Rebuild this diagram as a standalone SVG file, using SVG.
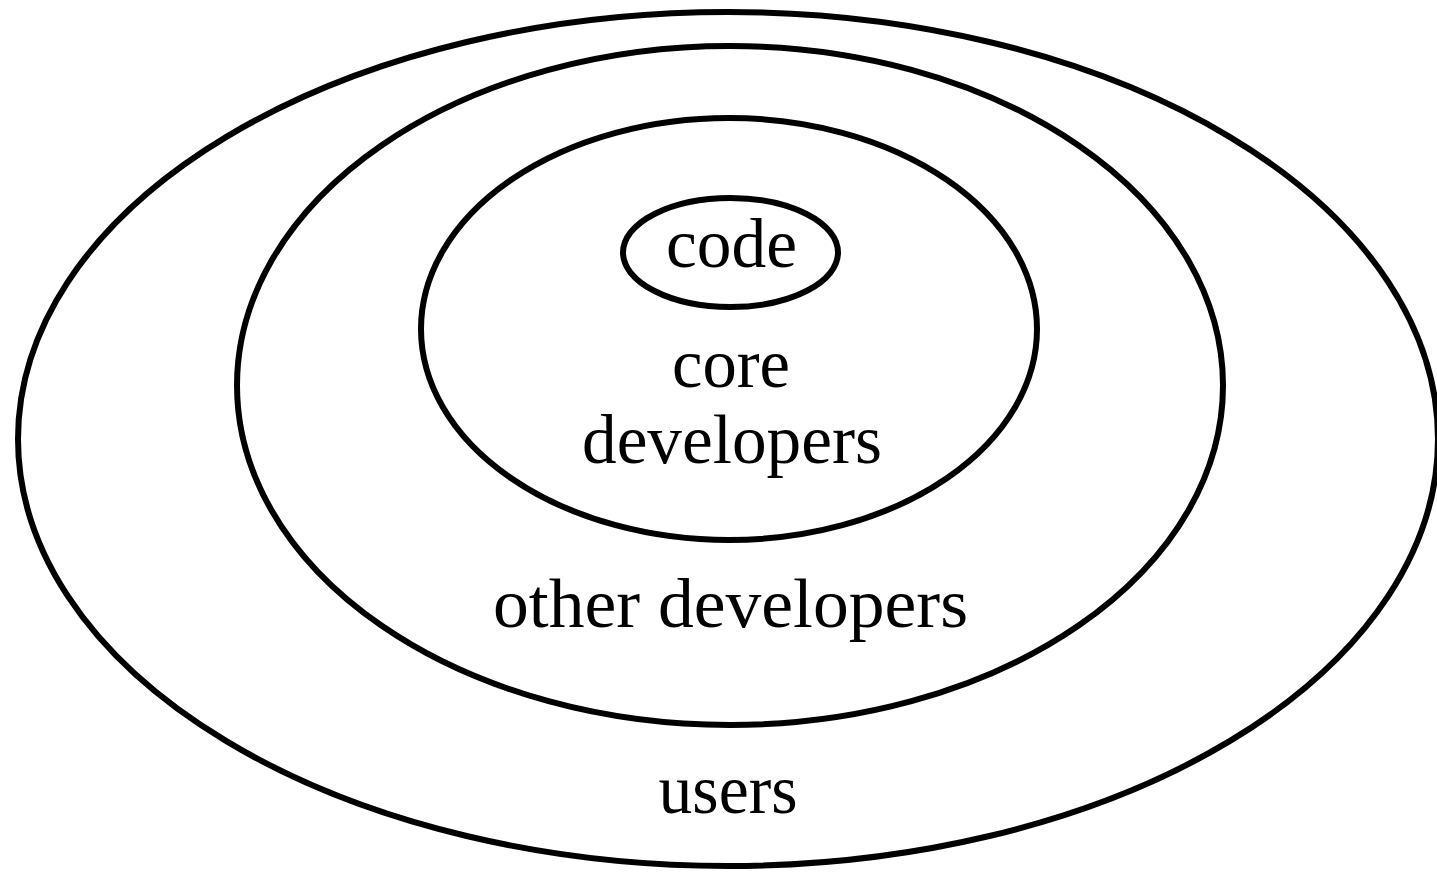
<svg xmlns="http://www.w3.org/2000/svg" width="1437" height="872" viewBox="0 0 1437 872">
  <style>
    .ring { fill: none; stroke: #000; stroke-width: 6; }
    .lbl { font-family: "Liberation Serif", "DejaVu Serif", serif; font-size: 70px; fill: #000; text-anchor: middle; }
  </style>
  <rect x="0" y="0" width="1437" height="872" fill="#fff"/>
  <g id="users">
    <ellipse class="ring" cx="728" cy="439" rx="710" ry="427"/>
    <text class="lbl" x="728" y="813" textLength="139" lengthAdjust="spacingAndGlyphs">users</text>
  </g>
  <g id="other-developers">
    <ellipse class="ring" cx="730" cy="385.5" rx="493" ry="339.5"/>
    <text class="lbl" x="730.5" y="627" textLength="475" lengthAdjust="spacingAndGlyphs">other developers</text>
  </g>
  <g id="core-developers">
    <ellipse class="ring" cx="729" cy="329" rx="308" ry="211"/>
    <text class="lbl" x="731" y="387" textLength="118" lengthAdjust="spacingAndGlyphs">core</text>
    <text class="lbl" x="732" y="463" textLength="300" lengthAdjust="spacingAndGlyphs">developers</text>
  </g>
  <g id="code">
    <ellipse class="ring" cx="730.5" cy="252.5" rx="107.5" ry="54.5"/>
    <text class="lbl" x="731.5" y="267" textLength="131" lengthAdjust="spacingAndGlyphs">code</text>
  </g>
  <g id="connectors"/>
</svg>
